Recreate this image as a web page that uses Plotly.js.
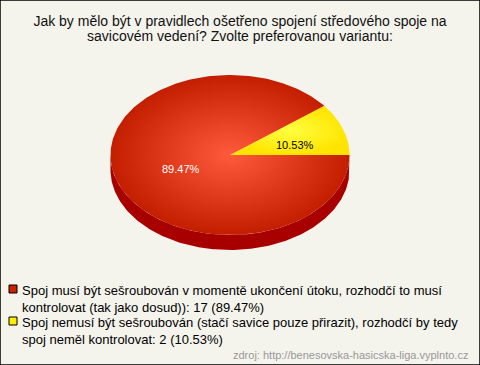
<!DOCTYPE html>
<html>
<head>
<meta charset="utf-8">
<script src="https://cdn.plot.ly/plotly-3.0.1.min.js"></script>
<style>html,body{margin:0;padding:0;background:#f4f3ec;}#chart{width:480px;height:365px;}</style>
</head>
<body>
<div id="chart"></div>
<script>
// ---- data ----
const titleLines = ["Jak by mělo být v pravidlech ošetřeno spojení středového spoje na", "savicovém vedení? Zvolte preferovanou variantu:"];
const categories = [
  "Spoj musí být sešroubován v momentě ukončení útoku, rozhodčí to musí<br>kontrolovat (tak jako dosud))",
  "Spoj nemusí být sešroubován (stačí savice pouze přirazit), rozhodčí by tedy<br>spoj neměl kontrolovat"
];
const counts = [17, 2];
const percentLabels = ["89.47%", "10.53%"];
const sourceText = "zdroj: http://benesovska-hasicska-liga.vyplnto.cz";

// ---- styles / layout constants ----
const sliceColors = [
  [[0, '#ff5a3c'], [1, '#c41e00']],
  [[0, '#ffff40'], [1, '#ffe400']]
];
const keyColors = ['#cc2200', '#ffee00'];
const labelColors = ['#ffffff', '#000000'];
const CX = 230, CY = 155, RX = 119.5, RY = 80, DEPTH = 15;
const LABEL_DX = 8, LABEL_DY = 2;
const FONT = 'Liberation Sans, Arial, sans-serif';

const total = counts.reduce((a, b) => a + b, 0);
const order = [1, 0];
const traces = [];

// side (extrusion) of the lower half
const N = 200;
const sx = [], sy = [];
for (let i = 0; i <= N; i++) {
  const t = Math.PI + Math.PI * i / N;
  sx.push(CX + RX * Math.cos(t)); sy.push(CY - RY * Math.sin(t));
}
for (let i = N; i >= 0; i--) {
  const t = Math.PI + Math.PI * i / N;
  sx.push(CX + RX * Math.cos(t)); sy.push(CY - RY * Math.sin(t) + DEPTH);
}
traces.push({x: sx, y: sy, mode: 'lines', fill: 'toself', fillcolor: '#a80000',
  line: {width: 0, color: '#a80000'}, hoverinfo: 'skip', showlegend: false});

let start = 0;
const annotations = [];
order.forEach(idx => {
  const frac = counts[idx] / total;
  const a0 = start * 2 * Math.PI, a1 = (start + frac) * 2 * Math.PI;
  const xs = [CX], ys = [CY];
  const steps = Math.max(4, Math.round(frac * 300));
  for (let i = 0; i <= steps; i++) {
    const t = a0 + (a1 - a0) * i / steps;
    xs.push(CX + RX * Math.cos(t)); ys.push(CY - RY * Math.sin(t));
  }
  xs.push(CX); ys.push(CY);
  traces.push({x: xs, y: ys, mode: 'lines', fill: 'toself',
    fillgradient: {type: 'radial', colorscale: sliceColors[idx]},
    line: {width: 0}, hoverinfo: 'skip', showlegend: false});
  const mid = (a0 + a1) / 2;
  annotations.push({x: CX + 0.5 * RX * Math.cos(mid) + LABEL_DX, y: CY - 0.45 * RY * Math.sin(mid) + LABEL_DY,
    xref: 'x', yref: 'y', text: percentLabels[idx], showarrow: false,
    font: {family: FONT, size: 11, color: labelColors[idx]}});
  start += frac;
});

// legend keys & text
const legendTop = [289, 321];
traces.push({x: categories.map(() => 13), y: legendTop, mode: 'markers',
  marker: {symbol: 'square', size: 8, color: keyColors, line: {width: 1, color: '#000'}},
  hoverinfo: 'skip', showlegend: false});
categories.forEach((c, i) => {
  annotations.push({x: 20, y: legendTop[i] - 8.5, xref: 'x', yref: 'y', xanchor: 'left', yanchor: 'top',
    align: 'left', showarrow: false,
    text: c + ': ' + counts[i] + ' (' + percentLabels[i] + ')',
    font: {family: FONT, size: 13, color: '#000'}});
});
annotations.push({x: 470, y: 355, xref: 'x', yref: 'y', xanchor: 'right', yanchor: 'middle',
  showarrow: false, text: sourceText, font: {family: FONT, size: 11, color: '#999999'}});
// second title line
annotations.push({x: 0.5, y: 36, xref: 'paper', yref: 'y', xanchor: 'center', yanchor: 'middle',
  showarrow: false, text: titleLines[1], font: {family: FONT, size: 14, color: '#111'}});

const layout = {
  width: 480, height: 365,
  margin: {l: 0, r: 0, t: 0, b: 0},
  paper_bgcolor: '#f4f3ec', plot_bgcolor: 'rgba(0,0,0,0)',
  title: {text: titleLines[0], x: 0.5, xanchor: 'center', y: 1 - 21 / 365, yref: 'container', yanchor: 'middle',
    font: {family: FONT, size: 14, color: '#111'}},
  xaxis: {range: [0, 480], visible: false, fixedrange: true},
  yaxis: {range: [365, 0], visible: false, fixedrange: true},
  showlegend: false,
  annotations: annotations,
  shapes: [{type: 'rect', xref: 'paper', yref: 'paper', x0: 0, x1: 1, y0: 0, y1: 1,
    line: {color: '#000', width: 1.5}}]
};

Plotly.newPlot('chart', traces, layout, {staticPlot: true, displayModeBar: false});
</script>
</body>
</html>
